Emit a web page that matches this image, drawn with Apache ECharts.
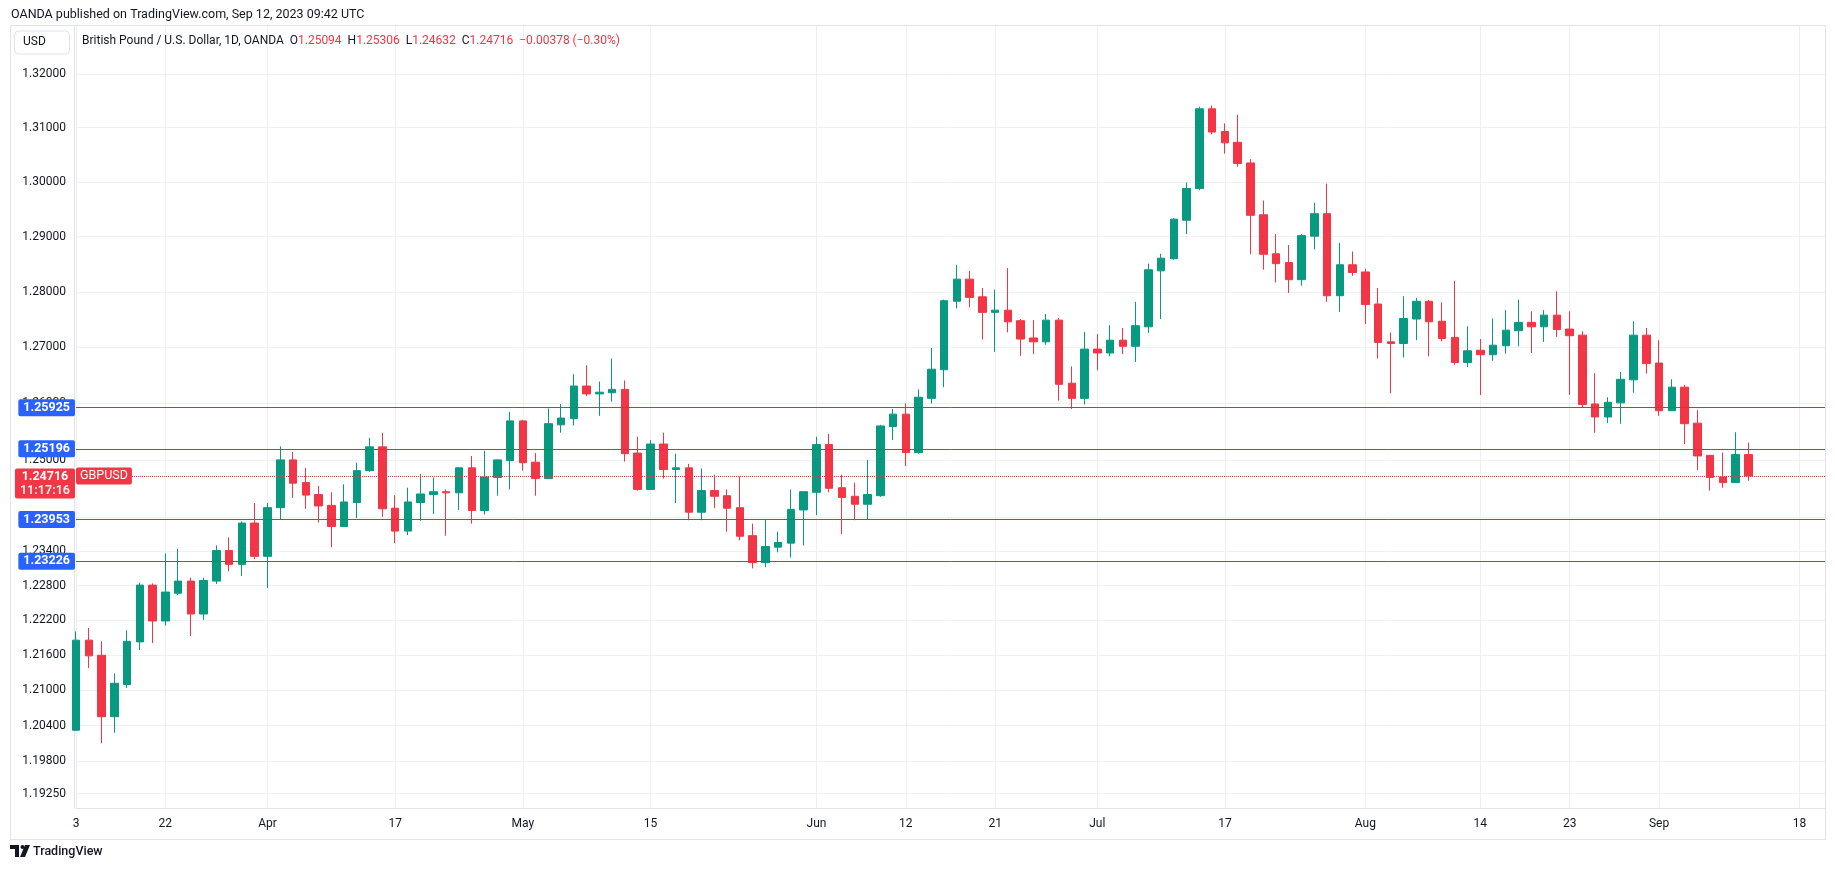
<!DOCTYPE html>
<html>
<head>
<meta charset="utf-8">
<script src="https://cdn.jsdelivr.net/npm/echarts@6/dist/echarts.min.js"></script>
<style>
  html, body { margin: 0; padding: 0; background: #fff; }
  #chart { width: 1835px; height: 869px; }
</style>
</head>
<body>
<div id="chart"></div>
<script>
// GBPUSD daily, OANDA, 13 Mar - 12 Sep 2023
var openP = [
  1.2032, 1.2186, 1.2160, 1.2055, 1.2110, 1.2183, 1.2281, 1.2219, 1.2267, 1.2288,
  1.2231, 1.2288, 1.2341, 1.2317, 1.2389, 1.2331, 1.2416, 1.2500, 1.2460, 1.2439,
  1.2420, 1.2383, 1.2425, 1.2481, 1.2523, 1.2415, 1.2375, 1.2425, 1.2439, 1.2444,
  1.2442, 1.2486, 1.2411, 1.2469, 1.2499, 1.2569, 1.2496, 1.2467, 1.2562, 1.2573,
  1.2631, 1.2617, 1.2619, 1.2625, 1.2512, 1.2448, 1.2528, 1.2483, 1.2486, 1.2408,
  1.2446, 1.2437, 1.2416, 1.2367, 1.2320, 1.2347, 1.2354, 1.2412, 1.2443, 1.2527,
  1.2451, 1.2436, 1.2422, 1.2437, 1.2559, 1.2581, 1.2513, 1.2609, 1.2660, 1.2783,
  1.2823, 1.2791, 1.2763, 1.2767, 1.2748, 1.2717, 1.2710, 1.2749, 1.2636, 1.2609,
  1.2697, 1.2690, 1.2713, 1.2702, 1.2737, 1.2838, 1.2860, 1.2930, 1.2988, 1.3135,
  1.3093, 1.3073, 1.3035, 1.2940, 1.2869, 1.2853, 1.2822, 1.2901, 1.2942, 1.2793,
  1.2849, 1.2836, 1.2778, 1.2710, 1.2707, 1.2751, 1.2783, 1.2747, 1.2718, 1.2673,
  1.2695, 1.2687, 1.2703, 1.2730, 1.2745, 1.2737, 1.2758, 1.2733, 1.2722, 1.2599,
  1.2576, 1.2601, 1.2642, 1.2722, 1.2672, 1.2587, 1.2629, 1.2565, 1.2508, 1.2470,
  1.2460, 1.25094
];
var highP = [
  1.2201, 1.2207, 1.2184, 1.2129, 1.2203, 1.2285, 1.2284, 1.2336, 1.2344, 1.2294,
  1.2294, 1.2350, 1.2364, 1.2392, 1.2424, 1.2424, 1.2524, 1.2514, 1.2486, 1.2454,
  1.2443, 1.2457, 1.2495, 1.2539, 1.2548, 1.2438, 1.2451, 1.2475, 1.2469, 1.2448,
  1.2487, 1.2507, 1.2516, 1.2501, 1.2585, 1.2571, 1.2512, 1.2591, 1.2599, 1.2652,
  1.2668, 1.2639, 1.2680, 1.2641, 1.2541, 1.2535, 1.2548, 1.2511, 1.2493, 1.2485,
  1.2474, 1.2448, 1.2471, 1.2388, 1.2396, 1.2374, 1.2448, 1.2444, 1.2541, 1.2546,
  1.2474, 1.2460, 1.2500, 1.2562, 1.2590, 1.2600, 1.2625, 1.2699, 1.2786, 1.2849,
  1.2838, 1.2807, 1.2804, 1.2843, 1.2751, 1.2749, 1.2760, 1.2753, 1.2666, 1.2728,
  1.2724, 1.2740, 1.2735, 1.2782, 1.2851, 1.2869, 1.2934, 1.2999, 1.3139, 1.3141,
  1.3108, 1.3124, 1.3042, 1.2966, 1.2905, 1.2885, 1.2905, 1.2962, 1.2997, 1.2889,
  1.2873, 1.2842, 1.2807, 1.2727, 1.2792, 1.2789, 1.2785, 1.2781, 1.2820, 1.2738,
  1.2715, 1.2752, 1.2767, 1.2786, 1.2765, 1.2767, 1.2801, 1.2765, 1.2729, 1.2654,
  1.2611, 1.2656, 1.2747, 1.2735, 1.2713, 1.2643, 1.2633, 1.2588, 1.2508, 1.2513,
  1.2549, 1.25306
];
var lowP = [
  1.2031, 1.2138, 1.2010, 1.2028, 1.2104, 1.2169, 1.2181, 1.2211, 1.2264, 1.2193,
  1.2221, 1.2283, 1.2305, 1.2297, 1.2326, 1.2276, 1.2396, 1.2433, 1.2414, 1.2390,
  1.2347, 1.2382, 1.2398, 1.2479, 1.2400, 1.2354, 1.2368, 1.2393, 1.2405, 1.2367,
  1.2412, 1.2388, 1.2404, 1.2437, 1.2448, 1.2481, 1.2437, 1.2467, 1.2548, 1.2561,
  1.2613, 1.2578, 1.2603, 1.2497, 1.2446, 1.2447, 1.2467, 1.2424, 1.2394, 1.2394,
  1.2415, 1.2374, 1.2359, 1.2310, 1.2312, 1.2338, 1.2329, 1.2350, 1.2403, 1.2443,
  1.2370, 1.2394, 1.2396, 1.2435, 1.2535, 1.2489, 1.2511, 1.2600, 1.2629, 1.2770,
  1.2772, 1.2714, 1.2692, 1.2727, 1.2685, 1.2688, 1.2705, 1.2605, 1.2590, 1.2598,
  1.2659, 1.2684, 1.2688, 1.2674, 1.2726, 1.2751, 1.2858, 1.2905, 1.2985, 1.3088,
  1.3052, 1.3028, 1.2868, 1.2840, 1.2817, 1.2798, 1.2811, 1.2877, 1.2782, 1.2764,
  1.2829, 1.2742, 1.2680, 1.2618, 1.2682, 1.2713, 1.2684, 1.2711, 1.2669, 1.2665,
  1.2615, 1.2676, 1.2689, 1.2702, 1.2690, 1.2710, 1.2719, 1.2615, 1.2592, 1.2548,
  1.2565, 1.2564, 1.2619, 1.2653, 1.2578, 1.2587, 1.2528, 1.2482, 1.2446, 1.2451,
  1.2460, 1.24632
];
var closeP = [
  1.2186, 1.2159, 1.2055, 1.2112, 1.2184, 1.2281, 1.2219, 1.2269, 1.2288, 1.2231,
  1.2289, 1.2341, 1.2317, 1.2389, 1.2331, 1.2416, 1.2500, 1.2459, 1.2438, 1.2419,
  1.2383, 1.2426, 1.2481, 1.2523, 1.2414, 1.2375, 1.2426, 1.2440, 1.2444, 1.2442,
  1.2486, 1.2411, 1.2470, 1.2500, 1.2569, 1.2495, 1.2467, 1.2564, 1.2574, 1.2631,
  1.2617, 1.2620, 1.2625, 1.2511, 1.2448, 1.2528, 1.2483, 1.2486, 1.2408, 1.2446,
  1.2436, 1.2415, 1.2366, 1.2320, 1.2348, 1.2355, 1.2413, 1.2444, 1.2527, 1.2450,
  1.2434, 1.2422, 1.2439, 1.2560, 1.2581, 1.2513, 1.2611, 1.2661, 1.2784, 1.2823,
  1.2790, 1.2763, 1.2767, 1.2746, 1.2715, 1.2710, 1.2749, 1.2634, 1.2609, 1.2697,
  1.2690, 1.2713, 1.2702, 1.2739, 1.2840, 1.2861, 1.2932, 1.2988, 1.3135, 1.3092,
  1.3072, 1.3034, 1.2939, 1.2868, 1.2851, 1.2822, 1.2902, 1.2942, 1.2793, 1.2849,
  1.2835, 1.2777, 1.2709, 1.2707, 1.2752, 1.2783, 1.2746, 1.2716, 1.2673, 1.2694,
  1.2687, 1.2704, 1.2731, 1.2745, 1.2737, 1.2758, 1.2732, 1.2721, 1.2598, 1.2576,
  1.2602, 1.2643, 1.2722, 1.2671, 1.2587, 1.2629, 1.2564, 1.2507, 1.2469, 1.2460,
  1.25094, 1.24716
];

// time scale labels
var tickDates = ['2023-03-13', '2023-03-22', '2023-04-03', '2023-04-17', '2023-05-01', '2023-05-15',
  '2023-06-01', '2023-06-12', '2023-06-21', '2023-07-03', '2023-07-17', '2023-08-01',
  '2023-08-14', '2023-08-23', '2023-09-01', '2023-09-18'];
var tickLabels = ['3', '22', 'Apr', '17', 'May', '15', 'Jun', '12', '21', 'Jul', '17', 'Aug', '14', '23', 'Sep', '18'];

// price scale labels (log scale)
var priceLabels = [1.32, 1.31, 1.30, 1.29, 1.28, 1.27, 1.26, 1.25, 1.24, 1.234, 1.228, 1.222,
  1.216, 1.21, 1.204, 1.198, 1.1925];
var levelLines = [1.25925, 1.25196, 1.23953, 1.23226];
var countdown = '11:17:16';
var priceMin = 1.19007, priceMax = 1.32894;

// weekday calendar from first bar, incl. empty future days on the right
var dates = [];
var d = new Date(Date.UTC(2023, 2, 13));
while (dates.length < 138) {
  var wd = d.getUTCDay();
  if (wd !== 0 && wd !== 6) dates.push(d.toISOString().slice(0, 10));
  d.setUTCDate(d.getUTCDate() + 1);
}

var UP = '#089981', DOWN = '#f23645', BLUE = '#2962ff', TXT = '#131722';
var FONT = 'Roboto, "Liberation Sans", sans-serif';
var gridTop = 26, gridBottom = 61, chartH = 869;

// candlestick wants [open, close, low, high]; log scale -> plot ln(price)
var candles = openP.map(function (o, i) {
  return [Math.log(o), Math.log(closeP[i]), Math.log(lowP[i]), Math.log(highP[i])];
});

var n = closeP.length;
var lastO = openP[n - 1], lastH = highP[n - 1], lastL = lowP[n - 1], lastC = closeP[n - 1];
var chg = lastC - closeP[n - 2];
var chgPct = chg / closeP[n - 2] * 100;
function signed(v, dp) { return (v < 0 ? '\u2212' : '+') + Math.abs(v).toFixed(dp); }

function isTick(index, value) { return tickDates.indexOf(value) >= 0; }

// the price tag hangs below the line: first text row sits on the price
var pxPerLn = (chartH - gridTop - gridBottom) / (Math.log(priceMax) - Math.log(priceMin));
var tagShift = 7.5 / pxPerLn;

var markData = levelLines.map(function (v) {
  return {
    yAxis: Math.log(v),
    lineStyle: { color: BLUE, width: 1, type: 'solid' },
    label: {
      show: true, position: 'start', distance: 1, formatter: v.toFixed(5),
      backgroundColor: BLUE, color: '#fff', fontWeight: 'bold', fontSize: 12.5,
      fontFamily: FONT, padding: [2, 5, 2, 5], borderRadius: 2, lineHeight: 13
    }
  };
});
markData.push({
  yAxis: Math.log(lastC),
  lineStyle: { color: DOWN, width: 1, type: 'dotted' },
  label: {
    show: true, position: 'insideStart', distance: 0, formatter: 'GBPUSD',
    backgroundColor: DOWN, color: '#fff', fontSize: 12.5, fontFamily: FONT,
    padding: [2, 4, 2, 4], borderRadius: 2, lineHeight: 13, verticalAlign: 'middle'
  }
});
markData.push({
  yAxis: Math.log(lastC) - tagShift,
  lineStyle: { color: 'rgba(0,0,0,0)', width: 0 },
  label: {
    show: true, position: 'start', distance: 1, opacity: 1,
    formatter: '{a|' + lastC.toFixed(5) + '}\n{b|' + countdown + '}',
    backgroundColor: DOWN, padding: [1, 5, 1, 5], borderRadius: 2,
    rich: {
      a: { color: '#fff', fontWeight: 'bold', fontSize: 12.5, fontFamily: FONT, lineHeight: 14, align: 'center' },
      b: { color: 'rgba(255,255,255,0.85)', fontWeight: 'bold', fontSize: 12.5, fontFamily: FONT, lineHeight: 14, align: 'center' }
    }
  }
});

var chart = echarts.init(document.getElementById('chart'));
var option = {
  animation: false,
  backgroundColor: '#fff',
  textStyle: { fontFamily: FONT },
  grid: { left: 76, right: 10, top: gridTop, bottom: gridBottom, containLabel: false },
  xAxis: {
    type: 'category',
    data: dates,
    boundaryGap: false,
    axisLine: { show: true, lineStyle: { color: '#e0e3eb' } },
    axisTick: { show: false },
    axisLabel: {
      interval: isTick,
      formatter: function (value) { return tickLabels[tickDates.indexOf(value)]; },
      color: TXT, fontSize: 12, margin: 10, fontFamily: FONT
    },
    splitLine: { show: true, interval: isTick, lineStyle: { color: '#f0f0f2', width: 1 } }
  },
  yAxis: {
    type: 'value',
    position: 'left',
    offset: 2,
    min: Math.log(priceMin),
    max: Math.log(priceMax),
    axisLine: { show: true, lineStyle: { color: '#e0e3eb' } },
    axisTick: { show: false, customValues: priceLabels.map(function (p) { return Math.log(p); }) },
    axisLabel: {
      customValues: priceLabels.map(function (p) { return Math.log(p); }),
      formatter: function (v) { return Math.exp(v).toFixed(5); },
      color: TXT, fontSize: 12, margin: 8, fontFamily: FONT
    },
    splitLine: { show: true, lineStyle: { color: '#f0f0f2', width: 1 } }
  },
  series: [{
    type: 'candlestick',
    data: candles,
    barWidth: 8,
    clip: false,
    itemStyle: {
      color: UP, color0: DOWN,
      borderColor: UP, borderColor0: DOWN,
      borderWidth: 1
    },
    markLine: {
      silent: true,
      precision: 10,
      symbol: ['none', 'none'],
      animation: false,
      data: markData
    }
  }],
  graphic: [
    {
      type: 'rect', silent: true, z: -1,
      shape: { x: 10.5, y: 25.5, width: 1815, height: 814 },
      style: { fill: 'none', stroke: '#e0e3eb', lineWidth: 1 }
    },
    {
      type: 'text', left: 11, top: 8, z: 100,
      style: {
        text: 'OANDA published on TradingView.com, Sep 12, 2023 09:42 UTC',
        fill: TXT, font: '12.5px ' + FONT
      }
    },
    {
      type: 'rect', silent: true, z: 100,
      shape: { x: 14.5, y: 31, width: 55, height: 23, r: 4 },
      style: { fill: '#fff', stroke: '#e0e3eb', lineWidth: 1 }
    },
    {
      type: 'text', left: 23, top: 36, z: 101,
      style: { text: 'USD', fill: TXT, font: '12px ' + FONT }
    },
    {
      type: 'text', left: 82, top: 35, z: 100,
      style: {
        text: '{n|British Pound / U.S. Dollar, 1D, OANDA}  {n|O}{r|' + lastO.toFixed(5) + '}  {n|H}{r|' +
          lastH.toFixed(5) + '}  {n|L}{r|' + lastL.toFixed(5) + '}  {n|C}{r|' + lastC.toFixed(5) + '}  {r|' +
          signed(chg, 5) + ' (' + signed(chgPct, 2) + '%)}',
        rich: {
          n: { fill: TXT, fontSize: 12, fontFamily: FONT },
          r: { fill: DOWN, fontSize: 12, fontFamily: FONT }
        },
        font: '12px ' + FONT
      }
    },
    {
      type: 'group', left: 10, top: 845,
      children: [
        { type: 'polygon', shape: { points: [[0, 0], [9, 0], [9, 12], [5, 12], [5, 4], [0, 4]] }, style: { fill: TXT } },
        { type: 'circle', shape: { cx: 12.5, cy: 2, r: 2 }, style: { fill: TXT } },
        { type: 'polygon', shape: { points: [[15, 0], [20, 0], [15, 12], [10, 12]] }, style: { fill: TXT } },
        { type: 'text', x: 23, y: 0, style: { text: 'TradingView', fill: TXT, font: '500 12.5px ' + FONT } }
      ]
    }
  ]
};
chart.setOption(option);
</script>
</body>
</html>
